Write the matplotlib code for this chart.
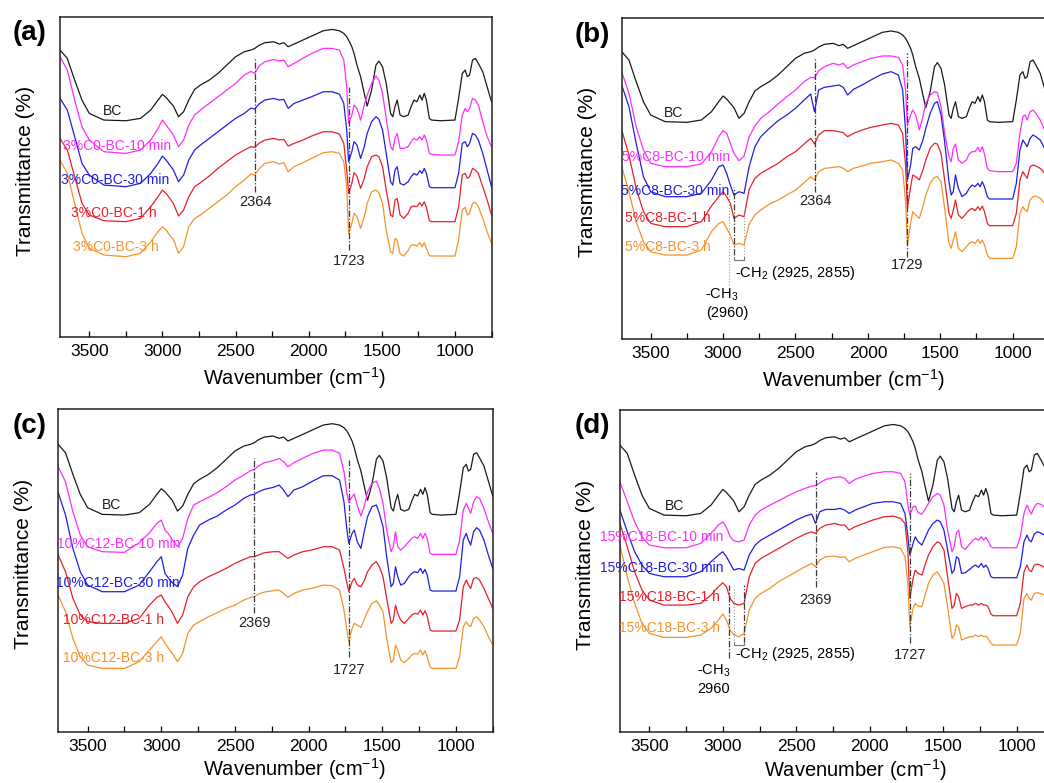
import matplotlib
matplotlib.use('Agg')
import matplotlib.pyplot as plt
from matplotlib.ticker import MultipleLocator

plt.rcParams['font.family'] = ['Liberation Sans', 'DejaVu Sans']
plt.rcParams['mathtext.fontset'] = 'custom'
plt.rcParams['mathtext.rm'] = 'Liberation Sans'
plt.rcParams['mathtext.it'] = 'Liberation Sans:italic'

# FTIR spectra (transmittance, arbitrary units)
wavenumber = [3700, 3650, 3600, 3550, 3500, 3400, 3250, 3150, 3080, 3030,
              3000, 2975, 2950, 2925, 2890, 2855, 2820, 2780, 2740, 2680,
              2620, 2560, 2500, 2440, 2395, 2369, 2340, 2300, 2240, 2200,
              2170, 2140, 2100, 2040, 1980, 1900, 1840, 1790, 1760, 1740,
              1727, 1705, 1690, 1670, 1645, 1620, 1600, 1570, 1540, 1520,
              1495, 1470, 1440, 1425, 1410, 1395, 1375, 1350, 1320, 1300,
              1280, 1260, 1240, 1225, 1210, 1195, 1175, 1160, 1100, 1000,
              975, 950, 930, 915, 900, 880, 860, 840, 810, 780, 750]

bc = [862, 837, 772, 712, 672, 652, 650, 657, 682, 712,
      729, 720, 707, 694, 662, 677, 712, 744, 757, 772,
      792, 817, 842, 857, 862, 867, 876, 884, 887, 880,
      884, 872, 880, 892, 904, 920, 924, 920, 912, 902,
      892, 872, 852, 817, 782, 732, 694, 742, 817, 829,
      812, 762, 672, 662, 692, 712, 667, 662, 667, 692,
      712, 707, 727, 712, 732, 712, 657, 652, 650, 652,
      717, 792, 802, 782, 787, 832, 837, 822, 797, 752, 707]

# (a) 3%C0
c0_10min = [842, 802, 712, 632, 592, 557, 552, 562, 592, 627,
            652, 637, 622, 607, 572, 592, 637, 667, 682, 702,
            722, 742, 762, 787, 798, 792, 814, 827, 834, 829,
            832, 812, 822, 837, 852, 867, 867, 862, 832, 752,
            642, 667, 697, 687, 652, 697, 727, 762, 784, 772,
            732, 657, 572, 562, 597, 612, 567, 567, 572, 587,
            597, 592, 602, 592, 607, 592, 552, 549, 547, 547,
            587, 667, 687, 677, 687, 717, 712, 697, 647, 602, 572]
c0_30min = [717, 682, 602, 522, 487, 457, 452, 462, 492, 522,
            544, 532, 517, 502, 467, 487, 532, 562, 577, 597,
            617, 637, 657, 672, 688, 685, 700, 712, 717, 712,
            714, 687, 702, 712, 722, 737, 737, 730, 702, 622,
            527, 557, 587, 577, 537, 572, 612, 647, 662, 654,
            622, 552, 467, 457, 502, 512, 462, 457, 467, 482,
            492, 487, 500, 492, 507, 492, 452, 449, 449, 449,
            492, 582, 587, 572, 582, 612, 607, 592, 552, 502, 452]
c0_1h = [597, 562, 482, 402, 367, 350, 347, 357, 392, 422,
         442, 432, 417, 402, 364, 382, 422, 452, 464, 484,
         507, 527, 547, 562, 572, 570, 582, 592, 597, 592,
         594, 574, 582, 592, 604, 617, 617, 610, 582, 502,
         432, 462, 494, 484, 447, 477, 512, 542, 547, 542,
         512, 442, 367, 362, 412, 417, 367, 357, 372, 392,
         394, 392, 404, 394, 407, 390, 350, 347, 347, 347,
         392, 487, 492, 477, 482, 507, 502, 492, 452, 412, 367]
c0_3h = [532, 492, 402, 312, 267, 247, 242, 252, 287, 317,
         332, 322, 307, 294, 252, 272, 332, 357, 367, 387,
         407, 427, 452, 472, 490, 487, 505, 522, 527, 520,
         524, 497, 512, 524, 537, 554, 557, 552, 527, 452,
         312, 342, 372, 362, 327, 362, 402, 437, 442, 434,
         402, 322, 257, 252, 297, 292, 250, 244, 260, 277,
         277, 274, 284, 272, 284, 267, 245, 244, 244, 244,
         292, 382, 390, 367, 372, 402, 405, 392, 357, 317, 282]

# (b) 5%C8
c8_10min = [802, 737, 637, 567, 527, 517, 517, 525, 562, 607,
            625, 617, 587, 557, 535, 549, 607, 639, 662, 682,
            705, 727, 747, 772, 785, 783, 805, 817, 827, 822,
            827, 812, 822, 832, 842, 849, 849, 845, 822, 747,
            642, 672, 687, 672, 627, 667, 707, 732, 742, 739,
            697, 617, 547, 532, 572, 585, 537, 527, 537, 555,
            562, 562, 575, 562, 577, 555, 512, 505, 502, 502,
            527, 617, 667, 672, 657, 682, 687, 677, 657, 627, 597]
c8_30min = [762, 697, 587, 487, 442, 427, 427, 437, 477, 517,
            522, 497, 462, 432, 442, 437, 517, 577, 607, 632,
            655, 672, 692, 717, 735, 682, 747, 755, 759, 762,
            755, 732, 749, 762, 777, 795, 802, 792, 747, 627,
            477, 522, 572, 577, 567, 597, 632, 677, 707, 712,
            672, 592, 472, 432, 442, 492, 452, 427, 437, 452,
            462, 457, 467, 457, 472, 457, 427, 420, 420, 420,
            467, 567, 597, 587, 577, 602, 612, 607, 597, 572, 542]
c8_1h = [627, 552, 452, 382, 347, 337, 337, 352, 399, 427,
         442, 427, 407, 362, 372, 367, 449, 482, 497, 512,
         527, 547, 562, 585, 602, 585, 612, 625, 625, 622,
         619, 607, 617, 627, 635, 642, 647, 642, 617, 522,
         392, 457, 492, 487, 477, 507, 537, 572, 587, 585,
         557, 477, 377, 362, 387, 417, 372, 362, 377, 387,
         392, 385, 397, 387, 399, 382, 347, 340, 340, 340,
         377, 477, 502, 492, 482, 517, 522, 519, 512, 497, 467]
c8_3h = [517, 442, 352, 292, 262, 252, 252, 267, 322, 347,
         352, 332, 312, 282, 287, 282, 345, 372, 387, 405,
         417, 432, 447, 469, 487, 477, 502, 512, 515, 517,
         512, 502, 512, 519, 527, 532, 537, 527, 507, 412,
         282, 347, 382, 372, 362, 397, 432, 467, 485, 487,
         472, 392, 287, 272, 297, 322, 272, 262, 277, 287,
         292, 287, 299, 287, 297, 282, 252, 242, 242, 242,
         277, 377, 397, 387, 382, 417, 427, 429, 422, 407, 377]

# (c) 10%C12
c12_10min = [795, 750, 660, 590, 555, 540, 538, 567, 597, 625,
             635, 605, 593, 575, 555, 580, 640, 680, 690, 703,
             717, 735, 755, 770, 783, 787, 797, 807, 813, 820,
             810, 795, 807, 820, 833, 845, 845, 835, 780, 715,
             688, 705, 713, 680, 647, 680, 720, 745, 752, 730,
             685, 605, 540, 555, 600, 555, 545, 555, 570, 580,
             585, 580, 595, 580, 595, 580, 535, 532, 532, 532,
             575, 665, 685, 670, 655, 690, 705, 700, 670, 630, 595]
c12_30min = [718, 650, 550, 480, 440, 420, 420, 440, 480, 510,
             525, 475, 460, 447, 435, 470, 550, 590, 620, 635,
             647, 665, 680, 700, 710, 712, 720, 727, 733, 740,
             725, 705, 725, 735, 750, 768, 768, 755, 690, 605,
             565, 595, 605, 570, 550, 605, 645, 675, 680, 655,
             615, 525, 435, 445, 495, 465, 440, 445, 465, 475,
             480, 477, 490, 475, 487, 470, 425, 422, 422, 422,
             465, 575, 595, 575, 560, 600, 612, 605, 575, 530, 490]
c12_1h = [530, 480, 400, 350, 330, 325, 325, 340, 380, 403,
          410, 390, 375, 357, 325, 350, 405, 435, 450, 465,
          477, 490, 505, 517, 525, 525, 530, 537, 540, 540,
          530, 520, 530, 540, 545, 555, 555, 545, 490, 445,
          420, 450, 460, 440, 435, 455, 480, 500, 510, 495,
          465, 400, 325, 335, 380, 355, 335, 325, 340, 350,
          355, 353, 365, 350, 363, 347, 305, 302, 302, 302,
          335, 435, 455, 440, 430, 460, 462, 455, 430, 400, 370]
c12_3h = [410, 360, 280, 225, 200, 190, 190, 210, 245, 270,
          285, 265, 250, 235, 210, 235, 295, 320, 330, 345,
          357, 370, 380, 395, 403, 405, 413, 419, 423, 425,
          415, 403, 415, 425, 430, 440, 438, 425, 365, 305,
          270, 310, 325, 320, 313, 340, 360, 385, 393, 380,
          360, 280, 207, 215, 260, 245, 215, 207, 220, 230,
          235, 233, 245, 230, 243, 225, 193, 190, 190, 190,
          225, 315, 330, 320, 315, 340, 345, 335, 315, 285, 260]

# (d) 15%C18
c18_10min = [752, 692, 632, 587, 562, 554, 554, 567, 597, 622,
             632, 615, 587, 575, 572, 577, 622, 652, 667, 682,
             695, 709, 722, 732, 739, 740, 749, 759, 765, 767,
             762, 747, 759, 769, 777, 782, 782, 777, 752, 682,
             652, 677, 679, 659, 655, 672, 687, 707, 717, 712,
             682, 607, 542, 557, 599, 607, 557, 549, 565, 575,
             582, 577, 587, 577, 585, 575, 557, 554, 554, 554,
             587, 657, 682, 667, 655, 677, 687, 685, 677, 662, 637]
c18_30min = [667, 602, 542, 502, 477, 467, 467, 482, 512, 532,
             542, 527, 507, 487, 492, 487, 532, 562, 577, 592,
             607, 622, 637, 649, 655, 627, 662, 669, 669, 672,
             667, 657, 667, 677, 687, 692, 692, 687, 657, 587,
             532, 567, 587, 572, 562, 587, 607, 627, 637, 632,
             607, 547, 477, 487, 527, 522, 477, 479, 489, 497,
             502, 495, 507, 495, 502, 492, 467, 464, 464, 464,
             497, 572, 592, 577, 572, 595, 602, 599, 592, 577, 557]
c18_1h = [627, 557, 482, 427, 397, 382, 382, 387, 412, 437,
          449, 437, 402, 387, 382, 387, 467, 507, 522, 537,
          552, 567, 582, 595, 602, 597, 612, 622, 627, 622,
          622, 607, 617, 627, 637, 647, 649, 642, 627, 542,
          402, 462, 487, 477, 472, 507, 532, 557, 572, 567,
          547, 467, 372, 382, 417, 407, 372, 377, 382, 382,
          387, 382, 387, 382, 382, 377, 355, 350, 350, 350,
          387, 482, 502, 487, 482, 502, 505, 502, 495, 482, 467]
c18_3h = [562, 467, 387, 327, 297, 285, 285, 292, 312, 337,
          355, 337, 307, 292, 287, 297, 367, 402, 417, 432,
          452, 467, 482, 497, 507, 497, 517, 527, 529, 525,
          527, 512, 522, 532, 542, 555, 557, 552, 527, 442,
          317, 372, 387, 379, 377, 417, 447, 472, 482, 467,
          447, 377, 282, 292, 322, 317, 277, 282, 287, 287,
          292, 287, 292, 287, 289, 282, 267, 262, 262, 262,
          297, 402, 417, 402, 397, 417, 419, 417, 412, 402, 387]

names_a = ['BC', '3%C0-BC-10 min', '3%C0-BC-30 min', '3%C0-BC-1 h', '3%C0-BC-3 h']
names_b = ['BC', '5%C8-BC-10 min', '5%C8-BC-30 min', '5%C8-BC-1 h', '5%C8-BC-3 h']
names_c = ['BC', '10%C12-BC-10 min', '10%C12-BC-30 min', '10%C12-BC-1 h', '10%C12-BC-3 h']
names_d = ['BC', '15%C18-BC-10 min', '15%C18-BC-30 min', '15%C18-BC-1 h', '15%C18-BC-3 h']

peaks_a = [2364, 1723]
peaks_b = [2364, 1729]
peaks_c = [2369, 1727]
peaks_d = [2369, 1727]

colors = ['#1a1a1a', '#ff2bff', '#1f1fe0', '#e8202a', '#f7922a']
dashdot = (0, (5, 1.5, 1, 1.5))

fig = plt.figure(figsize=(10.44, 7.83), dpi=100)

panels = [
    # tag, tag position (px), axes rect, ytop, series, names, peaks,
    # name positions, peak line spans, peak text heights, xlabel offset
    ('(a)', (13, 20), [0.0575, 0.5692, 0.4133, 0.4094], 962,
     [bc, c0_10min, c0_30min, c0_1h, c0_3h], names_a, peaks_a,
     [(3338, 679), (3311, 575), (3324, 472), (3331, 372), (3317, 272)],
     [(437, 842), (262, 752)], [407, 229], -0.088),
    ('(b)', (575, 22), [0.5955, 0.5670, 0.4092, 0.4096], 962,
     [bc, c8_10min, c8_30min, c8_1h, c8_3h], names_b, peaks_b,
     [(3343, 677), (3323, 547), (3332, 445), (3380, 362), (3380, 277)],
     [(442, 842), (247, 857)], [414, 222], -0.088),
    ('(c)', (13, 413), [0.0557, 0.0655, 0.4163, 0.4121], 968,
     [bc, c12_10min, c12_30min, c12_1h, c12_3h], names_c, peaks_c,
     [(3337, 680), (3292, 562), (3296, 445), (3326, 335), (3326, 220)],
     [(355, 820), (225, 815)], [325, 185], -0.076),
    ('(d)', (575, 413), [0.5938, 0.0647, 0.4152, 0.4115], 967,
     [bc, c18_10min, c18_30min, c18_1h, c18_3h], names_d, peaks_d,
     [(3332, 680), (3414, 587), (3414, 494), (3366, 407), (3364, 312)],
     [(437, 782), (267, 777)], [397, 232], -0.076),
]

axes = []
for tag, tpos, rect, ytop, series, names, peaks, npos, spans, ptext, xly in panels:
    ax = fig.add_axes(rect)
    axes.append(ax)
    for vals, name, col, (nx, ny) in zip(series, names, colors, npos):
        ax.plot(wavenumber, vals, color=col, lw=0.9)
        ax.text(nx, ny, name, color=col, fontsize=10, ha='center', va='center')
    for p, (y0, y1), ty in zip(peaks, spans, ptext):
        ax.plot([p, p], [y0, y1], color='#3a3a3a', lw=0.9, linestyle=dashdot)
        ax.text(p, ty, str(p), fontsize=10.5, ha='center', va='center', color='#222222')
    ax.set_xlim(3700, 750)
    ax.set_ylim(0, ytop)
    ax.set_yticks([])
    ax.xaxis.set_major_locator(MultipleLocator(500))
    ax.xaxis.set_minor_locator(MultipleLocator(250))
    ax.tick_params(axis='x', which='both', direction='in', labelsize=12.5, pad=5)
    ax.tick_params(axis='x', which='major', length=4, width=0.9)
    ax.tick_params(axis='x', which='minor', length=4, width=0.9)
    for s in ax.spines.values():
        s.set_linewidth(1.1)
        s.set_color('#222222')
    ax.set_xlabel('Wavenumber (cm$^{-1}$)', fontsize=14.5)
    ax.xaxis.set_label_coords(0.543, xly)
    ax.set_ylabel('Transmittance (%)', fontsize=15)
    ax.yaxis.set_label_coords(-0.058, 0.52)
    fig.text(tpos[0] / 1044, 1 - tpos[1] / 783, tag, fontsize=20, fontweight='bold',
             ha='left', va='top')

# -CH3 / -CH2 markers in (b) and (d)
ax_b, ax_d = axes[1], axes[3]
ax_b.plot([2960, 2960], [162, 432], color='#9a9a9a', lw=0.8, linestyle=':')
ax_b.plot([2925, 2925], [252, 457], color='#3a3a3a', lw=0.9, linestyle=dashdot)
ax_b.plot([2855, 2855], [237, 382], color='#9a9a9a', lw=0.8, linestyle=':')
ax_b.plot([2925, 2925, 2855, 2855], [245, 237, 237, 245], color='#777777', lw=0.8)
ax_b.text(2918, 199, '-CH$_2$ (2925, 2855)', fontsize=10.5, ha='left', va='center')
ax_b.text(3010, 132, '-CH$_3$', fontsize=10.5, ha='center', va='center')
ax_b.text(2970, 77, '(2960)', fontsize=10.5, ha='center', va='center')

ax_d.plot([2960, 2960], [222, 442], color='#3a3a3a', lw=0.9, linestyle=dashdot)
ax_d.plot([2925, 2925], [267, 437], color='#9a9a9a', lw=0.8, linestyle=':')
ax_d.plot([2855, 2855], [267, 442], color='#3a3a3a', lw=0.9, linestyle=dashdot)
ax_d.plot([2925, 2925, 2855, 2855], [270, 262, 262, 270], color='#777777', lw=0.8)
ax_d.text(2917, 234, '-CH$_2$ (2925, 2855)', fontsize=10.5, ha='left', va='center')
ax_d.text(3064, 184, '-CH$_3$', fontsize=10.5, ha='center', va='center')
ax_d.text(3060, 129, '2960', fontsize=10.5, ha='center', va='center')

fig.savefig('out.png', dpi=100)
